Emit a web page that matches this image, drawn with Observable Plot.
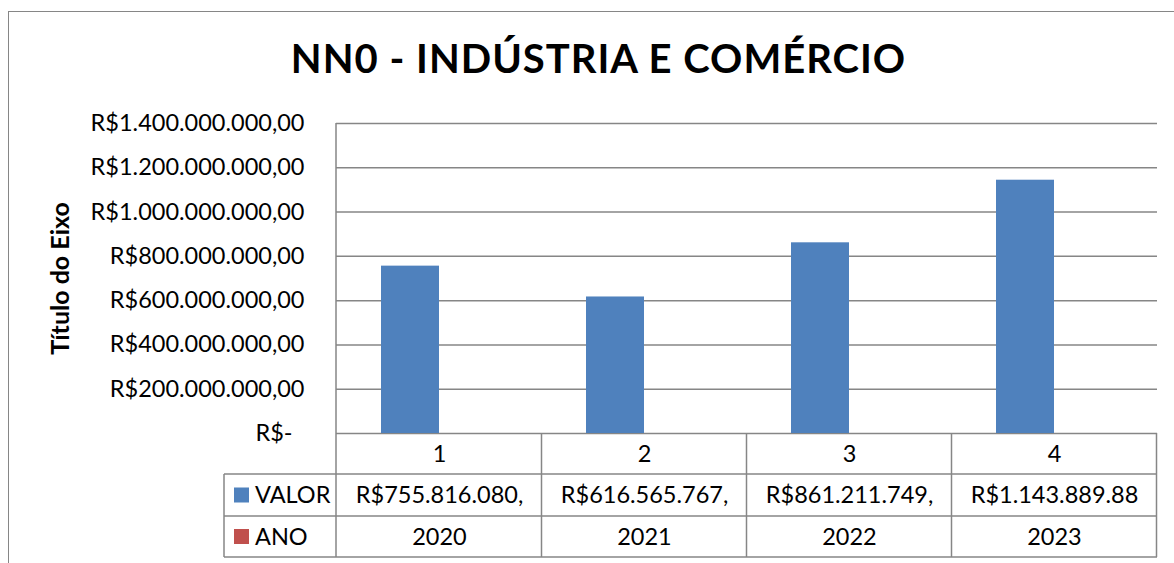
<!DOCTYPE html>
<html>
<head>
<meta charset="utf-8">
<script src="https://cdn.jsdelivr.net/npm/d3@7"></script>
<script src="https://cdn.jsdelivr.net/npm/@observablehq/plot@0.6"></script>
<style>
  html, body { margin: 0; padding: 0; background: #fff; }
  #wrap { position: relative; width: 1174px; height: 563px; overflow: hidden; background: #fff; font-family: Lato, "Open Sans", sans-serif; }
  #frame { position: absolute; left: 8px; top: 11px; width: 1200px; height: 600px; border: 1.5px solid #868686; box-sizing: border-box; }
  #title { position: absolute; left: 0; width: 1197px; top: 38px; text-align: center; font-size: 40px; line-height: 40px; letter-spacing: 1px; font-weight: bold; color: #000; white-space: nowrap; }
  #chart { position: absolute; left: 0; top: 95px; }
</style>
</head>
<body>
<div id="wrap">
  <div id="frame"></div>
  <div id="title"></div>
  <div id="chart"></div>
</div>
<script>
// ---- data ----
const chartTitle = "NN0 - INDÚSTRIA E COMÉRCIO";
const yTitle = "Título do Eixo";
const categorias = ["1", "2", "3", "4"];
const valores = [755816080, 616565767, 861211749, 1143889880];
const valorLabels = ["R$755.816.080,", "R$616.565.767,", "R$861.211.749,", "R$1.143.889.88"];
const anos = [2020, 2021, 2022, 2023];
const series = ["VALOR", "ANO"];
const seriesColors = ["#4F81BD", "#C0504D"];
const yTicks = [0, 200000000, 400000000, 600000000, 800000000, 1000000000, 1200000000, 1400000000];

document.getElementById("title").textContent = chartTitle;

const rows = categorias.map((c, i) => ({categoria: c, valor: valores[i], valorLabel: valorLabels[i], ano: anos[i]}));

const br = d3.formatLocale({decimal: ",", thousands: ".", grouping: [3], currency: ["R$", ""]});
const fmtMoney = br.format("$,.2f");
const fmtTick = (d) => d === 0 ? "R$-" : fmtMoney(d);

const FONT = "Lato, 'Open Sans', sans-serif";
const FS = 23.5;
const GRID = "#868686";
const legendWidth = 112;
const rowH = [41, 42, 41];

function tableMark(index, scales, values, dimensions) {
  const {x, y} = scales;
  const dom = x.domain();
  const bw = x.bandwidth();
  const step = dom.length > 1 ? x(dom[1]) - x(dom[0]) : bw;
  const gap = (step - bw) / 2;
  const left = dimensions.marginLeft;
  const right = dimensions.width - dimensions.marginRight;
  const y0 = y(0);
  const yTop = y(yTicks[yTicks.length - 1]);
  const r1 = y0 + rowH[0], r2 = r1 + rowH[1], r3 = r2 + rowH[2];
  const g = d3.create("svg:g").attr("stroke", GRID).attr("stroke-width", 1.5).attr("fill", "none");
  g.append("line").attr("x1", left).attr("x2", left).attr("y1", yTop).attr("y2", r3);
  dom.forEach((c) => {
    const xr = x(c) + bw + gap;
    g.append("line").attr("x1", xr).attr("x2", xr).attr("y1", y0).attr("y2", r3);
  });
  [r1, r2, r3].forEach((ry) => {
    g.append("line").attr("x1", left - legendWidth).attr("x2", right).attr("y1", ry).attr("y2", ry);
  });
  g.append("line").attr("x1", left - legendWidth).attr("x2", left - legendWidth).attr("y1", r1).attr("y2", r3);
  const centers = [(r1 + r2) / 2, (r2 + r3) / 2];
  series.forEach((s, i) => {
    g.append("rect").attr("stroke", "none").attr("fill", seriesColors[i])
      .attr("x", left - legendWidth + 10).attr("y", centers[i] - 7.5).attr("width", 15).attr("height", 15);
    g.append("text").attr("stroke", "none").attr("fill", "#000").attr("text-anchor", "start")
      .attr("x", left - legendWidth + 31).attr("y", centers[i]).attr("dy", "0.35em")
      .attr("font-size", FS).attr("font-family", FONT).text(s);
  });
  return g.node();
}

const chart = Plot.plot({
  width: 1174,
  height: 468,
  marginLeft: 336,
  marginRight: 17,
  marginTop: 28,
  marginBottom: 130,
  style: {fontFamily: FONT, fontSize: FS + "px", color: "#000", background: "transparent", overflow: "visible"},
  x: {domain: categorias, paddingInner: 0.434, paddingOuter: 0.217, axis: null},
  y: {domain: [0, 1400000000], axis: null},
  marks: [
    Plot.ruleY(yTicks, {stroke: GRID, strokeWidth: 1.5}),
    Plot.barY(rows, {x: "categoria", y: "valor", fill: seriesColors[0], insetRight: 58, insetLeft: 0}),
    Plot.barY(rows, {x: "categoria", y: "ano", fill: seriesColors[1], insetLeft: 58, insetRight: 0}),
    Plot.text(yTicks.filter((d) => d !== 0), {y: (d) => d, text: fmtTick, frameAnchor: "left", textAnchor: "end", dx: -32, fontSize: FS, fill: "#000"}),
    Plot.text(yTicks.filter((d) => d === 0), {y: (d) => d, text: fmtTick, frameAnchor: "left", textAnchor: "end", dx: -44, fontSize: FS, fill: "#000"}),
    Plot.text([yTitle], {frameAnchor: "left", text: (d) => d, rotate: -90, textAnchor: "middle", dx: -276, fontWeight: "bold", fontSize: 25, fill: "#000"}),
    Plot.text(rows, {x: "categoria", y: () => 0, text: "categoria", dy: 20.5, fontSize: FS, fill: "#000"}),
    Plot.text(rows, {x: "categoria", y: () => 0, text: "valorLabel", dy: 62, fontSize: FS, fill: "#000"}),
    Plot.text(rows, {x: "categoria", y: () => 0, text: (d) => String(d.ano), dy: 103.5, fontSize: FS, fill: "#000"}),
    tableMark
  ]
});
document.getElementById("chart").appendChild(chart);
</script>
</body>
</html>
